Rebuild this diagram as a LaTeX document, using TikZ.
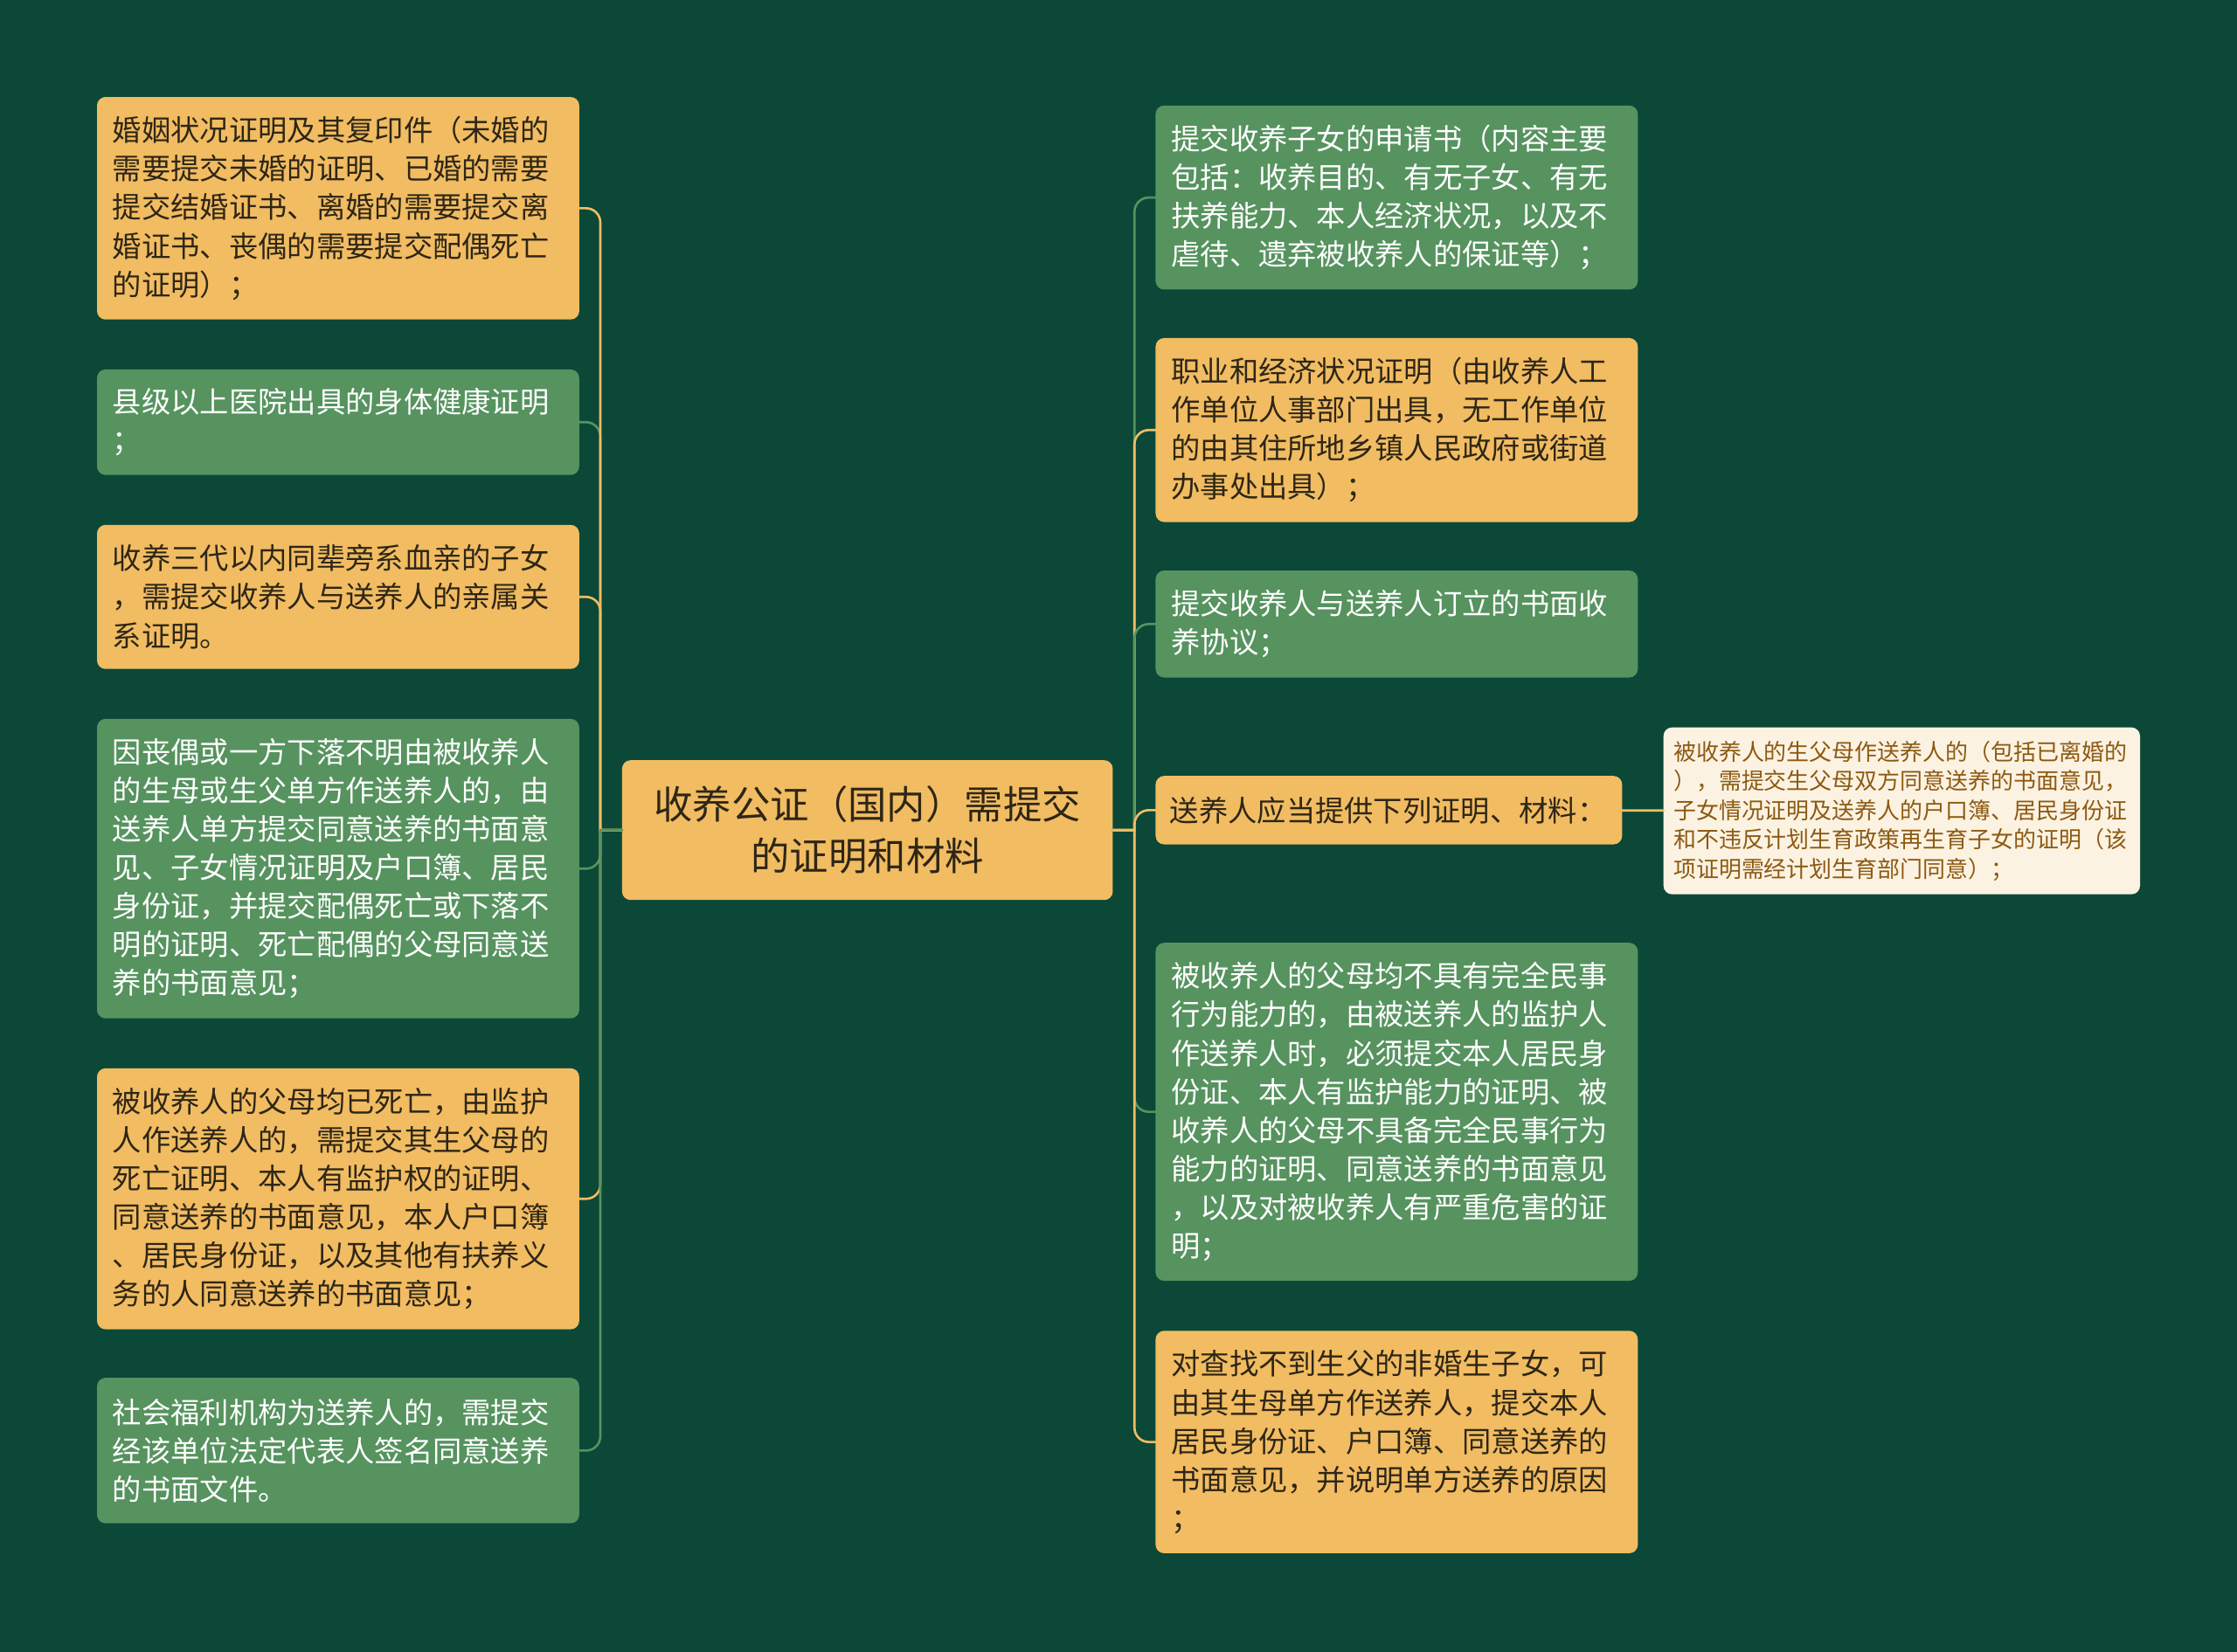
\documentclass[tikz,border=0pt]{standalone}
\usepackage{fontspec}
\setmainfont{Noto Sans CJK SC}
\definecolor{bgdark}{HTML}{0B4838}
\definecolor{boxyel}{HTML}{F1BC62}
\definecolor{boxgrn}{HTML}{56935F}
\definecolor{boxpale}{HTML}{FCF2E2}
\definecolor{txtdark}{HTML}{2E2616}
\definecolor{txtbrown}{HTML}{8C5A12}
\tikzstyle{leaf}=[rounded corners=6bp, inner xsep=11bp, inner ysep=0bp, text width=316bp, align=left, font=\fontsize{20.4bp}{27bp}\selectfont]
\tikzstyle{leafyellow}=[leaf, fill=boxyel, text=txtdark]
\tikzstyle{leafgreen}=[leaf, fill=boxgrn, text=white]
\tikzstyle{rootbox}=[rounded corners=6bp, fill=boxyel, text=txtdark, inner sep=0bp, minimum width=344bp, minimum height=98bp, text width=330bp, align=center, font=\fontsize{27.2bp}{36bp}\selectfont]
\tikzstyle{notebox}=[rounded corners=6bp, fill=boxpale, text=txtbrown, inner xsep=7bp, inner ysep=0bp, text width=320bp, align=left, font=\fontsize{15.9bp}{20.5bp}\selectfont]
\tikzstyle{lineyellow}=[draw=boxyel, line width=1.6bp, line cap=rect, rounded corners=10bp]
\tikzstyle{linegreen}=[draw=boxgrn, line width=1.6bp, line cap=rect, rounded corners=10bp]
\tikzstyle{toleft}=[to path={-- ++(-15,0) ++(0,0) |- (\tikztotarget) \tikztonodes}]
\tikzstyle{toright}=[to path={-- ++(15,0) ++(0,0) |- (\tikztotarget) \tikztonodes}]

\begin{document}
\begin{tikzpicture}[x=1bp, y=-1bp]
	   \fill[bgdark] (0,0) rectangle (1568,1158);
	   \useasboundingbox (0,0) rectangle (1568,1158);
		   \begin{scope}
			   \node (0) at (608, 582)[rootbox] {收养公证（国内）需提交\\的证明和材料};
			   % left side
			   \node (1) at (237, 146)[leafyellow, minimum height=156bp] {婚姻状况证明及其复印件（未婚的\\需要提交未婚的证明、已婚的需要\\提交结婚证书、离婚的需要提交离\\婚证书、丧偶的需要提交配偶死亡\\的证明）；};
			   \node (2) at (237, 296)[leafgreen, minimum height=74bp] {县级以上医院出具的身体健康证明\\；};
			   \node (3) at (237, 418.5)[leafyellow, minimum height=101bp] {收养三代以内同辈旁系血亲的子女\\，需提交收养人与送养人的亲属关\\系证明。};
			   \node (4) at (237, 609)[leafgreen, minimum height=210bp] {因丧偶或一方下落不明由被收养人\\的生母或生父单方作送养人的，由\\送养人单方提交同意送养的书面意\\见、子女情况证明及户口簿、居民\\身份证，并提交配偶死亡或下落不\\明的证明、死亡配偶的父母同意送\\养的书面意见；};
			   \node (5) at (237, 840.5)[leafyellow, minimum height=183bp] {被收养人的父母均已死亡，由监护\\人作送养人的，需提交其生父母的\\死亡证明、本人有监护权的证明、\\同意送养的书面意见，本人户口簿\\、居民身份证，以及其他有扶养义\\务的人同意送养的书面意见；};
			   \node (6) at (237, 1017)[leafgreen, minimum height=102bp] {社会福利机构为送养人的，需提交\\经该单位法定代表人签名同意送养\\的书面文件。};
			   % right side
			   \node (7) at (979, 138.5)[leafgreen, minimum height=129bp] {提交收养子女的申请书（内容主要\\包括：收养目的、有无子女、有无\\扶养能力、本人经济状况，以及不\\虐待、遗弃被收养人的保证等）；};
			   \node (8) at (979, 301.5)[leafyellow, minimum height=129bp] {职业和经济状况证明（由收养人工\\作单位人事部门出具，无工作单位\\的由其住所地乡镇人民政府或街道\\办事处出具）；};
			   \node (9) at (979, 437.5)[leafgreen, minimum height=75bp] {提交收养人与送养人订立的书面收\\养协议；};
			   \node (10) at (973.5, 568)[leafyellow, text width=307bp, inner xsep=10bp, minimum height=48bp] {送养人应当提供下列证明、材料：};
			   \node (11) at (979, 779.5)[leafgreen, minimum height=237bp] {被收养人的父母均不具有完全民事\\行为能力的，由被送养人的监护人\\作送养人时，必须提交本人居民身\\份证、本人有监护能力的证明、被\\收养人的父母不具备完全民事行为\\能力的证明、同意送养的书面意见\\，以及对被收养人有严重危害的证\\明；};
			   \node (12) at (979, 1011)[leafyellow, minimum height=156bp] {对查找不到生父的非婚生子女，可\\由其生母单方作送养人，提交本人\\居民身份证、户口簿、同意送养的\\书面意见，并说明单方送养的原因\\；};
			   \node (13) at (1333, 568.5)[notebox, minimum height=117bp] {被收养人的生父母作送养人的（包括已离婚的\\），需提交生父母双方同意送养的书面意见，\\子女情况证明及送养人的户口簿、居民身份证\\和不违反计划生育政策再生育子女的证明（该\\项证明需经计划生育部门同意）；};
		   \end{scope}
		   \begin{scope}
			   \path (0.west) edge[linegreen, toleft] (2.east);
			   \path (0.west) edge[lineyellow, toleft] (3.east);
			   \path (0.west) edge[linegreen, toleft] (4.east);
			   \path (0.west) edge[lineyellow, toleft] (5.east);
			   \path (0.west) edge[lineyellow, toleft] (1.east);
			   \path (0.west) edge[linegreen, toleft] (6.east);
			   \path (0.east) edge[linegreen, toright] (7.west);
			   \path (0.east) edge[lineyellow, toright] (8.west);
			   \path (0.east) edge[linegreen, toright] (9.west);
			   \path (0.east) edge[linegreen, toright] (11.west);
			   \path (0.east) edge[lineyellow, toright] (12.west);
			   \path (0.east) edge[lineyellow, toright] (10.west);
			   \path [-] (10) edge[lineyellow] (13);
		   \end{scope}
	   \end{tikzpicture}
\end{document}
